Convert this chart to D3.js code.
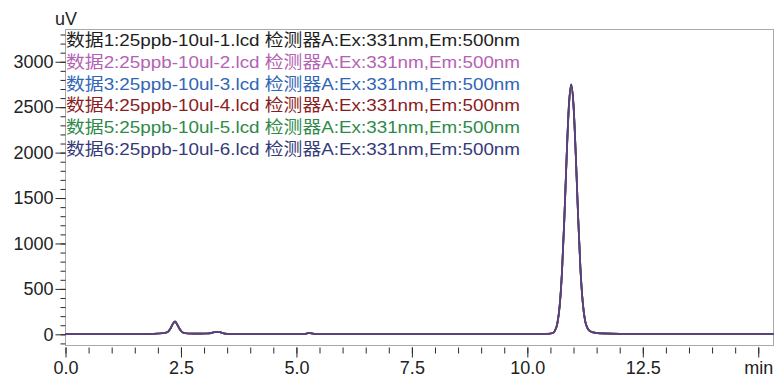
<!DOCTYPE html>
<html>
<head>
<meta charset="utf-8">
<script src="https://cdn.jsdelivr.net/npm/d3@7"></script>
<style>
  body { margin: 0; background: #fff; }
  text { font-family: "Liberation Sans", Arial, "Noto Sans CJK SC", sans-serif; }
</style>
</head>
<body>
<script>
// retention time (min)
const times = [0, 0.5, 1.0, 1.5, 1.9, 2.1, 2.2, 2.27, 2.32, 2.37, 2.42, 2.48, 2.55, 2.65, 2.8,
  3.05, 3.15, 3.22, 3.29, 3.36, 3.45, 3.55, 4.0, 4.5, 5.0, 5.18, 5.24, 5.28, 5.33, 5.42,
  6.0, 7.0, 8.0, 9.0, 10.0, 10.4, 10.55, 10.6, 10.65, 10.7, 10.75, 10.8, 10.85, 10.9, 10.95,
  11.0, 11.05, 11.1, 11.15, 11.2, 11.25, 11.3, 11.35, 11.45, 11.6, 12.0, 13.0, 14.0, 15.33];

// signal (uV), one array per run
const run1 = [2, 2, 3, 3, 6, 12, 22, 60, 110, 140, 106, 50, 18, 9, 8,
  9, 14, 23, 27, 21, 8, 3, 2, 2, 2, 4, 11, 15, 10, 3,
  2, 2, 3, 3, 3, 5, 15, 43, 122, 316, 690, 1265, 1950, 2528, 2752,
  2526, 1965, 1295, 724, 352, 151, 70, 38, 18, 10, 5, 4, 4, 4];
const run2 = [2, 2, 3, 3, 6, 12, 21, 61, 111, 141, 107, 51, 18, 9, 8,
  9, 14, 24, 28, 22, 8, 3, 2, 2, 2, 4, 12, 16, 10, 3,
  2, 2, 3, 3, 3, 5, 14, 41, 119, 311, 680, 1250, 1930, 2505, 2738,
  2512, 1952, 1284, 716, 348, 149, 69, 37, 18, 10, 5, 4, 4, 4];
const run3 = [2, 2, 3, 3, 6, 12, 22, 62, 112, 142, 108, 52, 18, 9, 8,
  9, 14, 24, 28, 22, 8, 3, 2, 2, 2, 4, 12, 16, 10, 3,
  2, 2, 3, 3, 3, 5, 15, 42, 120, 313, 684, 1257, 1940, 2517, 2745,
  2520, 1960, 1290, 720, 350, 150, 70, 38, 18, 10, 5, 4, 4, 4];
const run4 = [2, 2, 3, 3, 6, 12, 21, 60, 110, 139, 106, 50, 18, 9, 8,
  9, 14, 23, 27, 21, 8, 3, 2, 2, 2, 4, 11, 15, 10, 3,
  2, 2, 3, 3, 3, 5, 14, 41, 119, 310, 678, 1246, 1925, 2498, 2731,
  2506, 1948, 1281, 714, 347, 149, 69, 37, 18, 10, 5, 4, 4, 4];
const run5 = [2, 2, 3, 3, 6, 12, 22, 61, 111, 141, 107, 51, 18, 9, 8,
  9, 14, 24, 28, 22, 8, 3, 2, 2, 2, 4, 12, 16, 10, 3,
  2, 2, 3, 3, 3, 5, 15, 42, 121, 315, 687, 1261, 1946, 2522, 2748,
  2523, 1962, 1292, 722, 351, 150, 70, 38, 18, 10, 5, 4, 4, 4];
const run6 = [2, 2, 3, 3, 6, 12, 22, 62, 112, 142, 108, 52, 18, 9, 8,
  9, 14, 24, 28, 22, 8, 3, 2, 2, 2, 4, 12, 16, 10, 3,
  2, 2, 3, 3, 3, 5, 15, 42, 120, 313, 684, 1257, 1940, 2517, 2745,
  2520, 1960, 1290, 720, 350, 150, 70, 38, 18, 10, 5, 4, 4, 4];

const runs = [run1, run2, run3, run4, run5, run6];
const legendLabels = [
  "数据1:25ppb-10ul-1.lcd 检测器A:Ex:331nm,Em:500nm",
  "数据2:25ppb-10ul-2.lcd 检测器A:Ex:331nm,Em:500nm",
  "数据3:25ppb-10ul-3.lcd 检测器A:Ex:331nm,Em:500nm",
  "数据4:25ppb-10ul-4.lcd 检测器A:Ex:331nm,Em:500nm",
  "数据5:25ppb-10ul-5.lcd 检测器A:Ex:331nm,Em:500nm",
  "数据6:25ppb-10ul-6.lcd 检测器A:Ex:331nm,Em:500nm",
];
const colors = ["#1e1e1e", "#b462b4", "#2f66b6", "#8a1d1d", "#2e8a48", "#363a7a"];
// order the traces are stacked in (last one on top)
const drawOrder = [4, 2, 0, 3, 1, 5];

const xMajor = [0, 2.5, 5, 7.5, 10, 12.5, 15];
const xMajorLabels = ["0.0", "2.5", "5.0", "7.5", "10.0", "12.5", "min"];
const yMajor = [0, 500, 1000, 1500, 2000, 2500, 3000];

const size = { width: 775, height: 380 };
const frame = { left: 65.5, right: 773.5, top: 29.5, bottom: 345.5 };

const svg = d3.select('body').append('svg')
  .attr('width', size.width)
  .attr('height', size.height);

const x = d3.scaleLinear().domain([0, 15.33]).range([frame.left, frame.right]);
const y = d3.scaleLinear().domain([-123, 3355]).range([frame.bottom, frame.top]);

/* frame */
svg.append('rect')
  .attr('x', frame.left).attr('y', frame.top)
  .attr('width', frame.right - frame.left)
  .attr('height', frame.bottom - frame.top)
  .attr('fill', 'none')
  .attr('stroke', '#a8a8a8')
  .attr('stroke-width', 1);

/* y axis: minor + major ticks */
const yMinorTicks = d3.range(-100, 3301, 100);
const yMinor = svg.append('g')
  .attr('transform', `translate(${frame.left},0)`)
  .call(d3.axisLeft(y).tickValues(yMinorTicks).tickSize(5).tickFormat(''));
const yMaj = svg.append('g')
  .attr('transform', `translate(${frame.left},0)`)
  .call(d3.axisLeft(y).tickValues(yMajor).tickSize(10).tickPadding(2).tickFormat(d3.format('d')));

/* x axis */
const xMinorTicks = d3.range(0, 15.01, 0.5);
const xMinor = svg.append('g')
  .attr('transform', `translate(0,${frame.bottom + 2})`)
  .call(d3.axisBottom(x).tickValues(xMinorTicks).tickSize(6).tickFormat(''));
const xMaj = svg.append('g')
  .attr('transform', `translate(0,${frame.bottom + 2})`)
  .call(d3.axisBottom(x).tickValues(xMajor).tickSize(10).tickPadding(4)
    .tickFormat((d, i) => xMajorLabels[i]));

[yMinor, yMaj, xMinor, xMaj].forEach(g => {
  g.select('.domain').remove();
  g.selectAll('line').attr('stroke', '#2a2a2a');
  g.selectAll('text').attr('fill', '#222').style('font-size', '18px')
    .style('font-family', '"Liberation Sans", Arial, sans-serif');
});

svg.append('text')
  .attr('x', 55).attr('y', 25)
  .attr('fill', '#222')
  .style('font-size', '18px')
  .text('uV');

/* traces */
const line = d3.line()
  .x((d, i) => x(times[i]))
  .y(d => y(d))
  .curve(d3.curveMonotoneX);

svg.append('g')
  .selectAll('path')
  .data(drawOrder)
  .join('path')
    .attr('d', k => line(runs[k]))
    .attr('fill', 'none')
    .attr('stroke', k => colors[k])
    .attr('stroke-opacity', 0.7)
    .attr('stroke-width', 1.7);

/* legend */
svg.append('g')
  .selectAll('text')
  .data(legendLabels)
  .join('text')
    .attr('x', 66)
    .attr('y', (d, i) => 46 + i * 21.8)
    .attr('fill', (d, i) => colors[i])
    .style('font-size', '17px')
    .attr('textLength', 454)
    .attr('lengthAdjust', 'spacingAndGlyphs')
    .text(d => d);
</script>
</body>
</html>
